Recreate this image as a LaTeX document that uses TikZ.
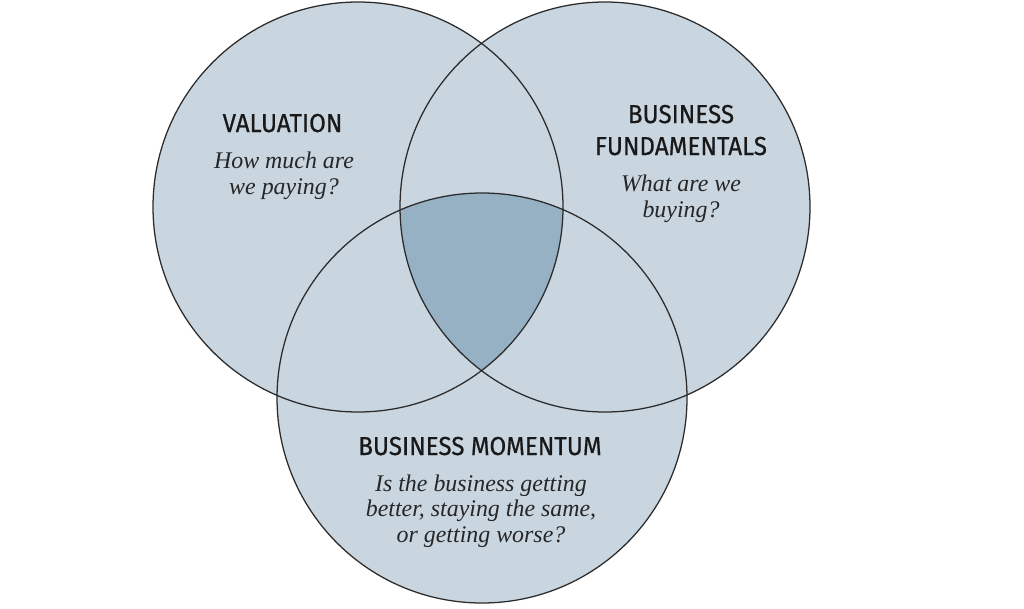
\documentclass[tikz,border=0pt]{standalone}
\usepackage{fontspec}
\newfontfamily\headfont{Fira Sans}[FakeStretch=0.93, FakeBold=0.6]
\newfontfamily\askfont{Liberation Serif}
\usetikzlibrary{positioning}
\definecolor{vennfill}{HTML}{C9D6E0}
\definecolor{venncore}{HTML}{97B1C4}
\definecolor{vennline}{HTML}{2B2B2B}
\tikzset{
  headline/.style={font=\headfont\fontsize{18.5}{22.7}\selectfont, text=black!90, align=center, inner sep=0pt, anchor=base},
  asklabel/.style={font=\askfont\itshape\fontsize{17}{18}\selectfont, text=black!85, align=center, inner sep=0pt, anchor=base},
}
\begin{document}
\begin{tikzpicture}[x=0.025cm, y=0.025cm]
  \path[use as bounding box] (0,0) rectangle (1024,608);
  % circle centres
  \coordinate (val)  at (358,401);
  \coordinate (fund) at (605,401);
  \coordinate (mom)  at (482,210);
  \fill[vennfill] (val) circle (205) (fund) circle (205) (mom) circle (205);
  % common core of all three
  \begin{scope}
    \clip (val) circle (205);
    \clip (fund) circle (205);
    \fill[venncore] (mom) circle (205);
  \end{scope}
  \draw[vennline, line width=0.9pt] (val) circle (205) (fund) circle (205) (mom) circle (205);
  % labels (base = last line)
  \node[headline] (valT)  at (282.5,476) {VALUATION};
  \node[asklabel] (valQ)  at (284,414) {How much are\\we paying?};
  \node[headline] (fundT) at (681,453) {BUSINESS\\FUNDAMENTALS};
  \node[asklabel] (fundQ) at (681,391) {What are we\\buying?};
  \node[headline] (momT)  at (480,153) {BUSINESS MOMENTUM};
  \node[asklabel] (momQ)  at (481,66) {Is the business getting\\better, staying the same,\\or getting worse?};
\end{tikzpicture}
\end{document}
